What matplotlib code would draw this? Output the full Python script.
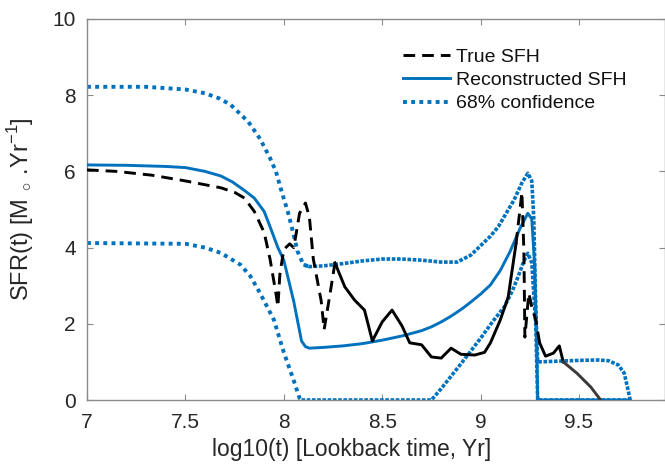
import numpy as np
import matplotlib
matplotlib.use("Agg")
import matplotlib.pyplot as plt
from matplotlib.lines import Line2D

plt.rcParams['font.family'] = ['Liberation Sans', 'DejaVu Sans']
plt.rcParams['mathtext.fontset'] = 'custom'
plt.rcParams['mathtext.rm'] = 'Liberation Sans'

# --- data: log10 lookback time vs star formation rate ---
true_x = [7.00, 7.15, 7.33, 7.50, 7.60, 7.68, 7.75, 7.80, 7.85, 7.90, 7.93, 7.96,
          7.97, 7.98, 8.00, 8.03, 8.05, 8.06, 8.08, 8.11, 8.13, 8.15, 8.19, 8.205,
          8.24, 8.26, 8.31, 8.36, 8.41, 8.45, 8.50, 8.55, 8.60, 8.64, 8.70, 8.75,
          8.80, 8.85, 8.90, 8.97, 9.02, 9.05, 9.10, 9.14, 9.18, 9.21, 9.22, 9.225,
          9.245, 9.26, 9.28, 9.30, 9.33, 9.37, 9.40, 9.42, 9.49, 9.56, 9.61]
true_y = [6.04, 6.00, 5.90, 5.75, 5.65, 5.57, 5.45, 5.30, 4.95, 4.40, 3.70, 2.80,
          2.45, 3.30, 3.95, 4.10, 4.00, 4.28, 4.90, 5.17, 4.80, 3.70, 2.60, 1.85,
          2.95, 3.60, 2.97, 2.62, 2.36, 1.55, 2.05, 2.36, 1.95, 1.50, 1.45, 1.13,
          1.10, 1.36, 1.20, 1.18, 1.25, 1.50, 2.10, 2.70, 4.10, 5.45, 3.90, 1.65,
          2.80, 2.45, 2.10, 1.50, 1.15, 1.23, 1.42, 1.00, 0.70, 0.34, 0.00]

rec_x = [7.00, 7.20, 7.40, 7.50, 7.60, 7.68, 7.74, 7.80, 7.85, 7.90, 7.93, 7.97,
         8.00, 8.05, 8.09, 8.11, 8.13, 8.20, 8.30, 8.40, 8.50, 8.60, 8.70, 8.75,
         8.80, 8.85, 8.91, 8.95, 9.00, 9.05, 9.10, 9.15, 9.20, 9.24, 9.26, 9.275,
         9.285, 9.29, 9.76]
rec_y = [6.17, 6.16, 6.13, 6.10, 6.00, 5.88, 5.72, 5.50, 5.30, 4.95, 4.55, 4.00,
         3.67, 2.60, 1.55, 1.40, 1.36, 1.38, 1.42, 1.48, 1.57, 1.68, 1.82, 1.92,
         2.05, 2.20, 2.41, 2.57, 2.78, 3.02, 3.40, 3.90, 4.50, 4.90, 4.75, 3.50,
         1.50, 0.00, 0.00]

upper_x = [7.00, 7.30, 7.50, 7.60, 7.67, 7.73, 7.77, 7.82, 7.88, 7.93, 7.96, 7.99,
           8.02, 8.04, 8.07, 8.10, 8.13, 8.20, 8.30, 8.40, 8.50, 8.60, 8.70, 8.80,
           8.88, 8.95, 9.00, 9.05, 9.09, 9.13, 9.17, 9.21, 9.24, 9.26, 9.27, 9.28,
           9.29, 9.40, 9.50, 9.60, 9.65, 9.70, 9.73, 9.75, 9.76]
upper_y = [8.22, 8.22, 8.15, 8.05, 7.92, 7.75, 7.55, 7.30, 6.85, 6.35, 6.00, 5.45,
           4.95, 4.55, 3.90, 3.55, 3.50, 3.52, 3.58, 3.65, 3.70, 3.70, 3.67, 3.62,
           3.62, 3.80, 4.05, 4.30, 4.55, 4.90, 5.25, 5.70, 5.95, 5.75, 4.80, 2.50,
           1.00, 1.02, 1.04, 1.05, 1.03, 0.92, 0.70, 0.25, 0.00]

lower_x = [7.00, 7.50, 7.60, 7.68, 7.78, 7.83, 7.88, 7.92, 7.95, 8.00, 8.05, 8.08,
           8.09, 8.75, 8.80, 8.90, 9.00, 9.06, 9.12, 9.16, 9.19, 9.22, 9.24, 9.26,
           9.28, 9.29, 9.76]
lower_y = [4.12, 4.10, 4.00, 3.86, 3.55, 3.25, 2.80, 2.40, 2.10, 1.25, 0.52, 0.05,
           0.00, 0.00, 0.30, 0.95, 1.62, 2.05, 2.44, 2.85, 3.23, 3.65, 3.85, 3.60,
           2.00, 0.00, 0.00]

x_ticks = [7, 7.5, 8, 8.5, 9, 9.5]
x_tick_labels = ['7', '7.5', '8', '8.5', '9', '9.5']
y_ticks = [0, 2, 4, 6, 8, 10]

BLUE = '#0072BD'
W, H = 665, 468

fig = plt.figure(figsize=(W / 100, H / 100), dpi=100)
ax = fig.add_axes([87 / W, (H - 400) / H, (W - 87) / W, 381 / H])


def piece(x, y, lo, hi):
    x = np.asarray(x)
    y = np.asarray(y)
    m = (x >= lo) & (x <= hi)
    return x[m], y[m]


dot_sparse = (0, (1, 1.1))
dot_dense = (0, (1, 0.45))

# confidence band edges
for cx, cy in ((upper_x, upper_y), (lower_x, lower_y)):
    sx, sy = piece(cx, cy, 6.9, 8.13)
    ax.plot(sx, sy, color=BLUE, lw=2.8, ls=dot_sparse, dash_capstyle='butt', zorder=2)
    dx, dy = piece(cx, cy, 8.09, 10)
    ax.plot(dx, dy, color=BLUE, lw=2.6, ls=dot_dense, dash_capstyle='butt', zorder=2)

# reconstructed history
ax.plot(rec_x, rec_y, color=BLUE, lw=2.1, solid_joinstyle='round', zorder=3)

# true history: dashed where sampling is sparse, continuous where dense
dash = (0, (4, 2.4))
for lo, hi, ls, col in ((6.9, 8.26, dash, 'black'),
                        (8.26, 9.18, '-', 'black'),
                        (9.18, 9.30, dash, 'black'),
                        (9.30, 9.42, '-', 'black'),
                        (9.42, 9.7, '-', '#3a3a3a')):
    px, py = piece(true_x, true_y, lo, hi)
    ax.plot(px, py, color=col, lw=2.1, ls=ls, dash_capstyle='butt', zorder=4)

ax.set_xlim(7, 7 + 578 / 196.8)
ax.set_ylim(0, 10)
ax.set_xticks(x_ticks)
ax.set_xticklabels(x_tick_labels)
ax.set_yticks(y_ticks)

for s in ax.spines.values():
    s.set_color('#8a8a8a')
    s.set_linewidth(1.0)
ax.tick_params(direction='in', length=4, width=0.8, color='#8a8a8a',
               top=True, right=True, labelsize=15, labelcolor='#262626')
ax.tick_params(axis='x', pad=9)
ax.tick_params(axis='y', pad=8)

ax.set_xlabel('log10(t) [Lookback time, Yr]', fontsize=16.5, color='#262626')
ax.xaxis.set_label_coords((352 - 87) / (W - 87), -(438 - 400) / 381)
ax.set_ylabel(r'SFR(t) [M$_{\;\circ\;}$.Yr$^{-1}$]', fontsize=17, color='#262626')
ax.yaxis.set_label_coords(-(87 - 36) / (W - 87), 0.5)

handles = [Line2D([], [], color='black', lw=2.1, ls=(0, (4, 2.4)), dash_capstyle='butt'),
           Line2D([], [], color=BLUE, lw=2.1),
           Line2D([], [], color=BLUE, lw=2.8, ls=dot_sparse, dash_capstyle='butt')]
labels = ['True SFH', 'Reconstructed SFH', '68% confidence']
fig.legend(handles, labels, loc='upper left', bbox_to_anchor=(403 / W, 1 - 48 / H),
           frameon=False, fontsize=14, handlelength=2.4, handletextpad=0.3,
           labelspacing=0.3, borderpad=0, borderaxespad=0, labelcolor='#111111')

fig.savefig('out.png', dpi=100)
